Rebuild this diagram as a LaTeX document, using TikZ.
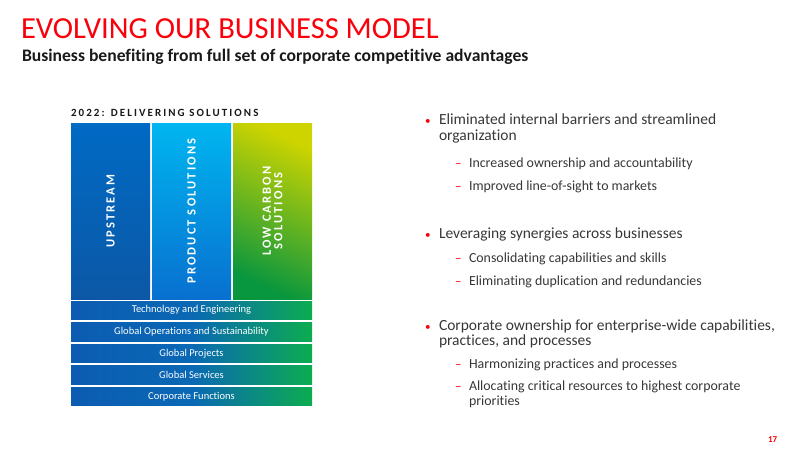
\documentclass[tikz,border=0pt]{standalone}
\usepackage{fontspec}
\setmainfont{Carlito}[Ligatures=NoCommon]
\newfontfamily\spacedfont[LetterSpace=17, Ligatures=NoCommon]{Carlito}
\newfontfamily\headfont[LetterSpace=19, Ligatures=NoCommon]{Carlito}
\usetikzlibrary{positioning, calc}
\definecolor{ExxRed}{RGB}{250, 0, 10}
\definecolor{BodyGray}{RGB}{55, 55, 55}
\definecolor{TitleBlack}{RGB}{25, 25, 25}
\definecolor{UpTop}{RGB}{0, 106, 196}
\definecolor{UpBot}{RGB}{12, 88, 166}
\definecolor{ProdTop}{RGB}{0, 182, 240}
\definecolor{ProdBot}{RGB}{8, 112, 208}
\definecolor{LowTop}{RGB}{205, 212, 0}
\definecolor{LowBot}{RGB}{8, 150, 62}
\definecolor{RowBlue}{RGB}{12, 92, 178}
\definecolor{RowMid}{RGB}{10, 104, 180}
\definecolor{RowGreen}{RGB}{12, 172, 80}

\begin{document}
\begin{tikzpicture}[x=1pt, y=-1pt,
    every node/.style={inner sep=0pt, outer sep=0pt},
    maintext/.style={anchor=base west, text=BodyGray, font=\fontsize{15.5}{18}\selectfont},
    subtext/.style={anchor=base west, text=BodyGray, font=\fontsize{13.9}{16}\selectfont},
    bulletdot/.style={anchor=base west, text=ExxRed, font=\fontsize{11}{14}\selectfont},
    subdash/.style={anchor=base west, text=ExxRed, font=\fontsize{13}{14}\selectfont},
    colbox/.style={anchor=north west, minimum width=79pt, minimum height=176pt},
    rowbox/.style={anchor=north west, minimum width=241pt, minimum height=18.5pt,
                   text=white, font=\fontsize{10.5}{12}\selectfont,
                   left color=RowBlue, right color=RowGreen, middle color=RowMid},
    collabel/.style={rotate=90, text=white, align=center,
                     font=\spacedfont\bfseries\fontsize{12.5}{13}\selectfont}
]
    \useasboundingbox (0,0) rectangle (800,450);

    % Title
    \node[anchor=base west, text=ExxRed, font=\fontsize{30.6}{36}\selectfont]
        (title) at (21,38) {EVOLVING OUR BUSINESS MODEL};
    \node[anchor=base west, text=TitleBlack, font=\bfseries\fontsize{17.6}{20}\selectfont]
        (subtitle) at (22,61) {Business benefiting from full set of corporate competitive advantages};

    % Left panel: the three businesses on top of the shared functions
    \node[anchor=base west, text=TitleBlack, font=\headfont\bfseries\fontsize{11}{13}\selectfont]
        (hdr) at (71,116) {2022: DELIVERING SOLUTIONS};

    \node[colbox, top color=UpTop, bottom color=UpBot] (colUp) at (71,123) {};
    \node[colbox, top color=ProdTop, bottom color=ProdBot] (colProd) at (152,123) {};
    \node[colbox, top color=LowTop, bottom color=LowBot, shading angle=-25] (colLow) at (233,123) {};

    \node[collabel] (lblUp) at (colUp.center) {UPSTREAM};
    \node[collabel] (lblProd) at (colProd.center) {PRODUCT SOLUTIONS};
    \node[collabel, font=\spacedfont\bfseries\fontsize{12.5}{11.5}\selectfont]
        (lblLow) at (colLow.center) {LOW CARBON\\SOLUTIONS};

    % Shared functions, one bar each
    \foreach \i/\name/\txt in {0/tech/Technology and Engineering,
                               1/ops/Global Operations and Sustainability,
                               2/proj/Global Projects,
                               3/serv/Global Services,
                               4/corp/Corporate Functions} {
        \pgfmathsetmacro{\ry}{301 + 21.5*\i}
        \node[rowbox] (row\name) at (71,\ry) {\txt};
    }

    % Right panel: bullets
    \node[bulletdot] (d1) at (425,124) {•};
    \node[maintext] (b1) at (439,124) {Eliminated internal barriers and streamlined};
    \node[maintext] (b1b) at (439,140) {organization};
    \node[subdash] (s1d) at (455,167) {–};
    \node[subtext] (s1) at (469,167) {Increased ownership and accountability};
    \node[subdash] (s2d) at (455,190) {–};
    \node[subtext] (s2) at (469,190) {Improved line-of-sight to markets};

    \node[bulletdot] (d2) at (425,238) {•};
    \node[maintext] (b2) at (439,238) {Leveraging synergies across businesses};
    \node[subdash] (s3d) at (455,262) {–};
    \node[subtext] (s3) at (469,262) {Consolidating capabilities and skills};
    \node[subdash] (s4d) at (455,285) {–};
    \node[subtext] (s4) at (469,285) {Eliminating duplication and redundancies};

    \node[bulletdot] (d3) at (425,330) {•};
    \node[maintext] (b3) at (439,330) {Corporate ownership for enterprise-wide capabilities,};
    \node[maintext] (b3b) at (439,345) {practices, and processes};
    \node[subdash] (s5d) at (455,368) {–};
    \node[subtext] (s5) at (469,368) {Harmonizing practices and processes};
    \node[subdash] (s6d) at (455,390) {–};
    \node[subtext] (s6) at (469,390) {Allocating critical resources to highest corporate};
    \node[subtext] (s6b) at (469,405) {priorities};

    % Page number
    \node[anchor=base west, text=ExxRed, font=\bfseries\fontsize{9}{11}\selectfont]
        (pagenum) at (768,442) {17};
\end{tikzpicture}
\end{document}
